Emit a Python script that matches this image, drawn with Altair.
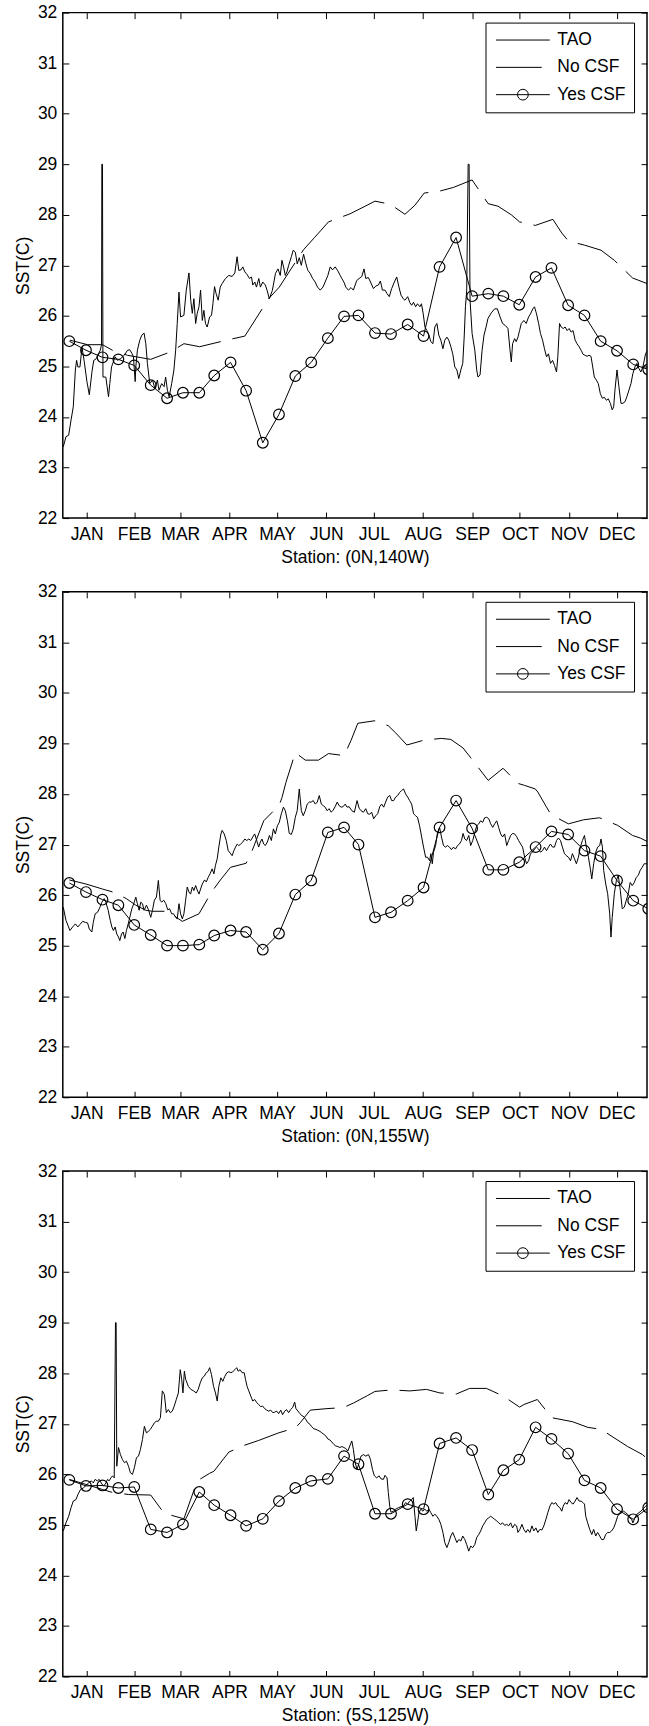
import altair as alt
import pandas as pd

FONT = "Liberation Sans"

MONTHS = ["JAN", "FEB", "MAR", "APR", "MAY", "JUN", "JUL", "AUG", "SEP", "OCT", "NOV", "DEC"]
MONTH_TICKS = [15, 45, 74, 105, 135, 166, 196, 227, 258, 288, 319, 349]
SST_TICKS = [22, 23, 24, 25, 26, 27, 28, 29, 30, 31, 32]
SERIES = ["TAO", "No CSF", "Yes CSF"]
STATIONS = ["Station: (0N,140W)", "Station: (0N,155W)", "Station: (5S,125W)"]

# 10-day model output days (Yes CSF markers)
YES_DAY = [4.1, 14.6, 25, 35, 45, 55.4, 65.7, 75.7, 86, 95.4, 105.7, 115.5, 126, 136.2,
           146.5, 156.5, 167, 177.2, 186.3, 196.7, 206.8, 217.3, 227.3, 237.4, 247.8,
           257.9, 268.1, 277.6, 287.6, 297.9, 307.9, 318.4, 328.7, 338.9, 349.2, 359.4, 368.9]

# ---------------- Station (0N,140W) ----------------
p1_yes = [25.50, 25.32, 25.18, 25.14, 25.02, 24.63, 24.37, 24.48, 24.48, 24.82, 25.08, 24.52,
          23.49, 24.05, 24.81, 25.08, 25.56, 25.99, 26.01, 25.66, 25.64, 25.83, 25.60, 26.97,
          27.55, 26.39, 26.44, 26.39, 26.22, 26.77, 26.95, 26.21, 26.01, 25.50, 25.31, 25.04, 24.94]
p1_nocsf = [(4.5, 25.52), (15.6, 25.43), (25, 25.43), (31.3, 25.32), (40.8, 25.22), (55.4, 25.14),
            (68, 25.29), (76.3, 25.45), (86.2, 25.39), (104.6, 25.53), (114.7, 25.6), (129.7, 26.34),
            (136.4, 26.57), (151.7, 27.31), (158.6, 27.55), (167.4, 27.86), (181, 28.02), (190.5, 28.17),
            (196.7, 28.27), (206.2, 28.21), (215.6, 28.01), (221.9, 28.19), (227.7, 28.43), (237.6, 28.47),
            (246, 28.54), (257.9, 28.69), (268, 28.22), (274.2, 28.17), (282.6, 28.0), (287.8, 27.86),
            (297.7, 27.79), (308.8, 27.91), (314.4, 27.64), (318.6, 27.48), (328.7, 27.4), (339.1, 27.3),
            (347.5, 27.1), (359, 26.75), (368.9, 26.63)]
p1_tao = [(0.3, 23.41), (2, 23.61), (3.7, 23.64), (5.2, 23.94), (6.6, 24.2), (7.9, 24.93), (8.7, 25.12),
          (9.5, 24.99), (10.8, 24.99), (12.1, 25.38), (13.5, 25.1), (15.2, 24.7), (16.7, 24.44),
          (18.4, 24.9), (19.5, 25.12), (21, 25.15), (22.5, 25.25), (23.6, 25.32), (24.4, 25.43),
          (24.6, 29.0), (25.0, 29.0), (25.3, 24.79), (27.1, 24.79), (28.8, 24.4), (29.6, 24.66),
          (30.7, 24.99), (33, 25.19), (34.5, 25.12), (36.6, 25.16), (38.7, 25.22), (40.8, 25.32),
          (42.2, 25.33), (43.5, 25.26), (44.5, 25.19), (45.6, 24.7), (46, 24.99), (47, 25.32),
          (48.5, 25.52), (49.8, 25.62), (51.2, 25.66), (52.3, 25.45), (53.3, 25.06), (54.8, 24.66),
          (56.5, 24.73), (58.1, 24.56), (59.6, 24.73), (60.6, 24.53), (62.3, 24.66), (63.8, 24.6),
          (64.8, 24.79), (65.9, 24.53), (67, 24.4), (68.6, 24.66), (70, 24.93), (71.1, 25.32),
          (72.1, 25.85), (73.2, 26.47), (74.2, 25.98), (76.3, 26.01), (77.8, 26.51), (79.5, 26.85),
          (80.6, 26.31), (81.6, 26.05), (82.6, 26.34), (83.7, 25.85), (84.7, 26.05), (85.8, 26.18),
          (86.8, 26.51), (87.9, 25.91), (88.9, 26.11), (89.9, 25.85), (91, 25.78), (92.5, 25.98),
          (93.7, 26.01), (94.6, 26.24), (95.6, 26.58), (96.6, 26.44), (97.9, 26.31), (99.2, 26.57),
          (100.4, 26.64), (102.5, 26.74), (104.6, 26.8), (106.7, 26.78), (108.4, 26.85), (109.8, 27.17),
          (110.9, 26.9), (112.3, 26.91), (113.4, 26.97), (114.7, 26.87), (116.1, 26.82), (117.6, 26.74),
          (118.9, 26.77), (119.7, 26.61), (121, 26.67), (122, 26.57), (123.5, 26.74), (124.5, 26.57),
          (126, 26.67), (127.6, 26.61), (128.7, 26.51), (130.1, 26.34), (132, 26.5), (134, 26.84),
          (135.6, 26.93), (137, 26.8), (138.1, 27.1), (139.1, 26.97), (140.2, 26.8), (141.2, 26.87),
          (142.3, 27.0), (144, 27.17), (145.2, 27.3), (146.5, 27.26), (147.7, 27.03), (149, 27.15),
          (150.3, 27.0), (151.7, 27.22), (153.2, 27.03), (154.4, 26.9), (155.9, 26.84), (157.4, 26.74),
          (159, 26.67), (160.5, 26.57), (162.2, 26.51), (163.9, 26.57), (165.3, 26.67), (167, 26.8),
          (168.5, 26.97), (170, 26.91), (171.6, 26.97), (173.3, 26.89), (174.8, 26.8), (175.8, 26.74),
          (177.1, 26.67), (178.3, 26.57), (180, 26.51), (181.6, 26.56), (183.1, 26.51), (185.2, 26.7),
          (186.7, 26.74), (188.4, 26.78), (189.8, 26.93), (190.9, 26.74), (192.5, 26.76), (194.2, 26.65),
          (195.7, 26.54), (197.2, 26.59), (198.8, 26.61), (200.1, 26.69), (201.4, 26.51), (203, 26.51),
          (204.3, 26.44), (205.7, 26.38), (207.2, 26.54), (208.9, 26.67), (210.4, 26.77), (211.8, 26.57),
          (213.1, 26.41), (214.5, 26.34), (215.6, 26.31), (217.3, 26.38), (218.7, 26.26), (219.8, 26.21),
          (221, 26.27), (222.3, 26.18), (223.5, 26.24), (225, 26.18), (226, 26.24), (227.1, 26.04),
          (228.2, 25.78), (229.4, 25.71), (230.7, 25.62), (231.9, 25.49), (233.2, 25.45), (234.4, 25.78),
          (235.7, 25.85), (236.9, 25.62), (238.2, 25.52), (239.5, 25.35), (240.7, 25.52), (242, 25.58),
          (243.2, 25.52), (244.5, 25.39), (245.7, 25.25), (247, 24.99), (248.3, 24.93), (249.5, 24.76),
          (250.8, 24.93), (252, 25.06), (252.9, 25.58), (253.7, 26.18), (254.5, 26.51), (255.4, 29.0),
          (256, 29.0), (256.6, 26.31), (257.9, 25.65), (259.6, 25.32), (260.8, 24.93), (261.6, 24.79),
          (262.9, 24.83), (264.2, 25.32), (265.4, 25.62), (266.7, 25.78), (267.9, 25.95), (270, 26.06),
          (272.1, 26.14), (273.8, 26.14), (275.5, 25.98), (277.1, 25.85), (278.8, 25.81), (280.5, 25.75),
          (281.8, 25.32), (282.6, 25.09), (283.4, 25.45), (284.7, 25.55), (285.7, 25.49), (286.8, 25.58),
          (287.8, 25.71), (288.9, 25.85), (290.5, 25.91), (292, 25.85), (293.5, 25.98), (294.7, 26.04),
          (296.2, 26.14), (297.2, 26.18), (298.5, 26.04), (299.8, 25.85), (301, 25.65), (302.3, 25.52),
          (303.5, 25.35), (304.8, 25.19), (306, 25.25), (307.3, 25.06), (308.6, 25.12), (309.8, 25.02),
          (311.1, 24.89), (311.9, 25.19), (313, 25.85), (314, 25.78), (315.3, 25.75), (316.5, 25.78),
          (317.8, 25.71), (319, 25.75), (320.3, 25.68), (321.5, 25.71), (322.8, 25.52), (324, 25.45),
          (325.3, 25.39), (326.6, 25.32), (327.8, 25.24), (329.1, 25.22), (330.3, 25.2), (331.5, 25.22),
          (332.8, 25.2), (333.9, 24.99), (334.9, 24.79), (336.2, 24.73), (337.4, 24.66), (338.7, 24.46),
          (340, 24.37), (341.2, 24.39), (342.5, 24.33), (343.7, 24.36), (345, 24.27), (346.2, 24.14),
          (347.1, 24.2), (347.9, 24.53), (349.2, 24.93), (350.4, 24.6), (351.7, 24.27), (352.9, 24.27),
          (354.2, 24.3), (355.4, 24.4), (356.7, 24.53), (358, 24.66), (359.2, 24.86), (360.5, 24.99),
          (361.7, 25.06), (363, 24.96), (364.2, 24.89), (365.5, 24.99), (367.2, 25.25), (368.9, 25.35)]

# ---------------- Station (0N,155W) ----------------
p2_yes = [26.24, 26.06, 25.91, 25.80, 25.41, 25.21, 25.00, 25.00, 25.02, 25.20, 25.30, 25.27,
          24.92, 25.24, 26.01, 26.29, 27.24, 27.34, 27.00, 25.56, 25.66, 25.89, 26.15, 27.34,
          27.87, 27.32, 26.50, 26.50, 26.65, 26.95, 27.26, 27.20, 26.88, 26.77, 26.29, 25.89, 25.73]
p2_nocsf = [(4.1, 26.3), (14.6, 26.22), (25, 26.12), (31.7, 26.06), (40.1, 25.93), (46, 25.8),
            (52.3, 25.7), (56.4, 25.68), (65.9, 25.68), (75.3, 25.48), (85.8, 25.63), (93.7, 26.06),
            (99.8, 26.32), (105.7, 26.55), (115.5, 26.63), (119.3, 26.88), (126.6, 27.47), (136.4, 27.78),
            (138.1, 27.93), (140.6, 28.23), (146.5, 28.82), (152.8, 28.67), (161.1, 28.67), (167.4, 28.8),
            (177.3, 28.76), (181.6, 29.06), (185.9, 29.4), (196.7, 29.45), (205.1, 29.35), (209.7, 29.21),
            (216.8, 28.97), (228.1, 29.07), (238.6, 29.1), (244.5, 29.08), (252.2, 28.91), (258.5, 28.66),
            (268, 28.27), (277.4, 28.51), (286.8, 28.21), (291, 28.17), (297.7, 28.1), (299.3, 28.04),
            (304.6, 27.75), (307.7, 27.59), (318.6, 27.41), (328.2, 27.49), (338.1, 27.53), (349.6, 27.38),
            (359, 27.18), (363.8, 27.13), (368.9, 27.05)]
p2_tao = [(0.3, 25.76), (2, 25.5), (4.5, 25.3), (6.2, 25.37), (7.9, 25.43), (9.5, 25.37), (10.8, 25.42),
          (12.5, 25.48), (14.2, 25.46), (15.6, 25.45), (16.7, 25.33), (18.3, 25.27), (19.2, 25.46),
          (20.4, 25.63), (21.9, 25.66), (23.4, 25.76), (24.6, 25.86), (26.1, 25.93), (27.1, 25.86),
          (28.6, 25.7), (29.9, 25.5), (30.9, 25.37), (31.9, 25.3), (33, 25.37), (34, 25.23), (35.1, 25.17),
          (35.9, 25.1), (37, 25.23), (38, 25.27), (39.1, 25.14), (40.1, 25.3), (41.2, 25.43), (42.2, 25.56),
          (43.5, 25.73), (44.7, 25.83), (46, 25.96), (47, 25.83), (48.1, 25.7), (49.1, 25.86), (50.2, 25.83),
          (51.2, 25.7), (52.7, 25.8), (54, 25.71), (55.4, 25.56), (56.5, 25.7), (57.7, 25.9), (59, 25.96),
          (60.2, 26.29), (61.3, 25.9), (62.3, 25.86), (63.6, 25.9), (64.9, 25.83), (66.1, 25.71),
          (67.3, 25.73), (68.6, 25.63), (69.8, 25.63), (71.1, 25.56), (72.1, 25.53), (73.2, 25.83),
          (74.2, 25.63), (75.3, 25.53), (76.3, 25.63), (77.4, 25.9), (78.4, 26.16), (79.5, 26.06),
          (80.5, 26.02), (81.6, 26.16), (82.6, 26.09), (83.7, 26.19), (84.7, 26.1), (85.8, 26.02),
          (86.8, 26.12), (87.9, 26.22), (89.3, 26.3), (90.4, 26.26), (91.6, 26.35), (92.9, 26.43),
          (94.1, 26.52), (95.2, 26.42), (96.2, 26.59), (97.3, 26.72), (98.3, 26.95), (99.6, 27.21),
          (100.4, 27.28), (101.7, 27.21), (103, 27.08), (104.2, 26.88), (105.5, 26.83), (106.7, 26.78),
          (107.8, 26.88), (108.8, 26.95), (109.9, 27.01), (110.9, 26.98), (112.1, 27.01), (113.4, 27.05),
          (114.7, 27.11), (115.9, 27.08), (117.2, 27.11), (118.4, 27.08), (119.7, 27.15), (120.9, 27.21),
          (122.2, 27.08), (123.4, 26.95), (124.5, 27.05), (125.5, 27.11), (126.6, 27.01), (127.6, 26.98),
          (128.9, 27.05), (130.2, 27.18), (131.4, 27.08), (132.7, 27.31), (133.9, 27.21), (135.2, 27.37),
          (136.4, 27.44), (137.7, 27.61), (139, 27.74), (140.2, 27.67), (141.5, 27.47), (142.7, 27.22),
          (144, 27.2), (145.2, 27.31), (146.5, 27.54), (147.7, 27.67), (149, 28.1), (150.3, 27.67),
          (151.5, 27.57), (152.8, 27.67), (154, 27.8), (155.3, 27.84), (156.5, 27.84), (157.8, 27.87),
          (159.1, 27.8), (160.3, 27.84), (161.6, 27.97), (162.9, 27.8), (164.1, 27.77), (165.3, 27.74),
          (166.6, 27.67), (167.8, 27.71), (169.1, 27.64), (170.3, 27.68), (171.6, 27.75), (172.9, 27.84),
          (174.1, 27.77), (175.4, 27.74), (176.6, 27.75), (177.9, 27.8), (179.1, 27.74), (180.4, 27.75),
          (182.1, 27.67), (183.7, 27.64), (185.4, 27.87), (186.7, 27.72), (187.9, 27.67), (189.4, 27.64),
          (190.9, 27.71), (192.1, 27.61), (193.4, 27.6), (194.6, 27.64), (195.9, 27.51), (197.2, 27.57),
          (198.4, 27.61), (199.7, 27.75), (200.9, 27.8), (202.2, 27.74), (203.4, 27.84), (204.7, 27.94),
          (206, 27.97), (207.2, 27.87), (208.5, 27.87), (209.7, 27.94), (211, 27.97), (212.2, 28.03),
          (213.5, 28.07), (214.7, 28.1), (216, 28.0), (217.3, 27.94), (218.5, 27.87), (219.8, 27.8),
          (221, 27.61), (222.3, 27.57), (223.5, 27.54), (224.8, 27.37), (226.1, 27.15), (227.3, 26.95),
          (228.6, 26.75), (229.8, 26.75), (231.1, 26.68), (231.9, 26.82), (232.8, 26.62), (233.6, 26.85),
          (234.9, 26.98), (236.1, 27.24), (237.4, 27.34), (238.6, 27.15), (239.9, 26.98), (241.1, 26.95),
          (242.4, 26.98), (243.6, 26.95), (244.9, 26.9), (246.2, 26.95), (247.4, 26.91), (248.7, 26.98),
          (249.9, 27.01), (251.2, 27.08), (252.2, 27.22), (253.3, 27.11), (254.5, 27.08), (255.8, 27.18),
          (257, 26.98), (258.3, 27.08), (259.6, 27.24), (260.8, 27.37), (262.1, 27.41), (263.3, 27.47),
          (264.6, 27.44), (265.8, 27.53), (267.1, 27.54), (268.4, 27.51), (269.6, 27.41), (270.9, 27.34),
          (272.1, 27.41), (273.4, 27.47), (274.6, 27.34), (275.9, 27.21), (277.1, 27.15), (278.4, 27.21),
          (279.7, 26.98), (280.9, 27.08), (282.2, 27.18), (283.4, 27.22), (284.7, 27.21), (285.9, 27.16),
          (287.2, 27.08), (288.5, 27.01), (289.7, 26.95), (291, 26.75), (292.2, 26.62), (293.5, 26.68),
          (294.7, 26.82), (296, 26.85), (297.2, 26.91), (298.5, 26.95), (299.8, 26.91), (301, 26.85),
          (302.3, 26.88), (303.5, 26.95), (304.8, 26.88), (306, 26.95), (307.3, 27.01), (308.6, 26.95),
          (309.8, 26.95), (311.1, 27.08), (312.3, 27.13), (313.6, 27.08), (314.8, 26.95), (316.1, 26.82),
          (317.3, 26.78), (318.6, 26.75), (319.9, 26.68), (321.1, 26.82), (322.4, 26.72), (323.6, 26.62),
          (324.9, 26.75), (326.1, 26.95), (327.4, 27.08), (328.7, 27.18), (329.9, 26.95), (331.2, 26.75),
          (332.4, 26.52), (333.3, 26.32), (334.5, 26.62), (335.8, 26.85), (337, 26.95), (338.3, 26.98),
          (339.1, 27.11), (340, 26.95), (340.8, 26.49), (342.1, 26.22), (343.3, 26.03), (344.6, 25.63),
          (345.4, 25.17), (346.2, 25.56), (347.5, 26.03), (348.8, 26.29), (350, 26.39), (351.3, 26.09),
          (352.5, 25.73), (353.8, 25.76), (355, 25.89), (356.3, 26.03), (357.5, 26.25), (358.8, 26.19),
          (360.1, 26.25), (361.3, 26.35), (362.6, 26.39), (363.8, 26.49), (365.1, 26.55), (366.3, 26.62),
          (368.9, 26.62)]

# ---------------- Station (5S,125W) ----------------
p3_yes = [25.89, 25.77, 25.78, 25.73, 25.75, 24.91, 24.85, 25.01, 25.65, 25.39, 25.19, 24.98,
          25.12, 25.47, 25.73, 25.87, 25.91, 26.36, 26.20, 25.22, 25.22, 25.41, 25.31, 26.61,
          26.72, 26.48, 25.60, 26.08, 26.29, 26.93, 26.70, 26.41, 25.88, 25.73, 25.31, 25.11, 25.34]
p3_nocsf = [(4.1, 25.9), (14.6, 25.8), (25, 25.7), (30.3, 25.65), (41.4, 25.6), (55.4, 25.59),
            (63.8, 25.23), (76.3, 25.12), (84.7, 25.87), (92.5, 26.02), (95.2, 26.06), (104.6, 26.44),
            (114, 26.57), (123.4, 26.67), (136, 26.82), (146.5, 26.92), (149.6, 27.02), (155.9, 27.27),
            (166.4, 27.3), (176.8, 27.32), (183.1, 27.41), (192.1, 27.56), (196.7, 27.64), (207.2, 27.67),
            (218.7, 27.65), (229.2, 27.68), (237.6, 27.61), (248, 27.59), (256.4, 27.7), (266.9, 27.7),
            (277.4, 27.55), (287.8, 27.33), (290.5, 27.38), (299, 27.48), (308.1, 27.12), (321.3, 27.04),
            (330.7, 26.93), (339.1, 26.89), (355.9, 26.55), (365.3, 26.39), (368.9, 26.29)]
p3_tao = [(0.3, 24.88), (2, 25.04), (3.7, 25.17), (5.2, 25.34), (6.6, 25.47), (8.3, 25.5), (9.5, 25.6),
          (11.2, 25.7), (12.9, 25.73), (14.6, 25.78), (16.2, 25.83), (18, 25.87), (19.2, 25.83),
          (20.4, 25.9), (21.7, 25.87), (22.9, 25.9), (24.2, 25.83), (25.5, 25.77), (26.7, 25.8),
          (28.2, 25.9), (29.2, 25.87), (30.3, 25.93), (31.3, 25.97), (32.4, 25.93), (33.2, 29.0),
          (33.6, 29.0), (34, 26.16), (35.1, 26.53), (36.3, 26.39), (37.6, 26.29), (38.9, 26.23),
          (40.1, 26.26), (41.4, 26.16), (42.6, 26.03), (43.9, 26.0), (45.1, 26.13), (46.4, 26.33),
          (47.7, 26.36), (48.9, 26.49), (50.2, 26.69), (51.4, 26.95), (52.7, 26.82), (53.9, 26.85),
          (55.2, 26.89), (56.4, 26.95), (57.7, 27.02), (58.9, 27.05), (60.2, 27.05), (61.5, 27.12),
          (62.7, 27.65), (64, 27.58), (65.2, 27.22), (66.5, 27.28), (67.7, 27.22), (69, 27.25),
          (70.2, 27.35), (71.5, 27.48), (72.8, 27.61), (74, 28.07), (74.9, 27.88), (75.7, 27.61),
          (76.6, 28.04), (77.4, 27.88), (79.1, 27.74), (80.7, 27.68), (82.4, 27.65), (84.1, 27.61),
          (85.3, 27.68), (86.6, 27.81), (87.9, 27.91), (89.1, 27.94), (90.4, 28.01), (91.6, 28.04),
          (92.5, 28.11), (93.7, 27.97), (95, 27.74), (96.2, 27.61), (97.3, 27.45), (98.3, 27.74),
          (99.6, 27.91), (100.8, 27.84), (102.1, 27.94), (103.4, 28.01), (104.6, 28.03), (105.9, 28.01),
          (107.1, 28.03), (108.4, 28.07), (109.6, 28.11), (110.5, 28.04), (111.7, 28.07), (113, 28.01),
          (114.3, 28.01), (115.1, 27.88), (116.1, 27.74), (117.2, 27.65), (118.4, 27.55), (119.7, 27.45),
          (120.9, 27.48), (122.2, 27.42), (123.4, 27.38), (124.7, 27.34), (125.9, 27.35), (127.2, 27.3),
          (128.5, 27.27), (129.7, 27.25), (131, 27.27), (132.3, 27.22), (133.5, 27.23), (134.8, 27.25),
          (136, 27.2), (137.3, 27.27), (138.5, 27.18), (139.8, 27.25), (141, 27.28), (142.3, 27.22),
          (143.5, 27.28), (144.8, 27.32), (146.1, 27.43), (146.9, 27.3), (148.2, 27.25), (149.4, 27.2),
          (150.7, 27.16), (151.9, 27.14), (153.2, 27.08), (154.4, 27.02), (155.7, 26.99), (156.9, 26.94),
          (158.2, 26.9), (159.5, 26.89), (160.7, 26.87), (162, 26.85), (163.2, 26.82), (164.5, 26.79),
          (165.7, 26.76), (167, 26.7), (168.3, 26.68), (169.5, 26.64), (170.8, 26.59), (172, 26.56),
          (173.3, 26.55), (174.6, 26.53), (175.8, 26.55), (177.1, 26.53), (178.3, 26.51), (179.6, 26.46),
          (180.8, 26.56), (182.1, 26.66), (183.1, 26.49), (184.2, 26.23), (185.4, 26.1), (186.7, 26.23),
          (187.9, 26.36), (189.4, 26.39), (190.9, 26.36), (192.6, 26.39), (193.8, 26.3), (195.1, 26.1),
          (196.3, 25.97), (197.8, 25.93), (199.3, 25.97), (200.5, 25.91), (202, 25.9), (203, 25.98),
          (204.3, 25.93), (205.1, 25.64), (206, 25.37), (206.8, 25.25), (208.3, 25.27), (209.7, 25.31),
          (211.4, 25.34), (213.1, 25.36), (214.5, 25.37), (216, 25.44), (217.3, 25.41), (218.5, 25.47),
          (219.8, 25.5), (220.8, 25.54), (221.9, 25.17), (222.7, 24.88), (223.5, 25.04), (224.4, 25.24),
          (225.6, 25.31), (226.9, 25.27), (228.1, 25.31), (229.4, 25.27), (230.7, 25.31), (231.9, 25.24),
          (233.2, 25.17), (234.4, 25.21), (235.7, 25.17), (236.9, 25.11), (238.2, 25.01), (239.5, 24.85),
          (240.7, 24.65), (242, 24.55), (243.2, 24.65), (244.5, 24.78), (245.7, 24.85), (247, 24.75),
          (248.3, 24.65), (249.5, 24.71), (250.8, 24.68), (252, 24.78), (253.3, 24.71), (254.5, 24.61),
          (255.8, 24.48), (257, 24.58), (258.3, 24.55), (259.6, 24.61), (260.8, 24.75), (262.1, 24.81),
          (263.3, 24.88), (264.6, 24.98), (265.8, 25.04), (267.1, 25.11), (268.4, 25.14), (269.6, 25.17),
          (270.9, 25.14), (272.1, 25.11), (273.4, 25.08), (274.6, 25.04), (275.9, 25.01), (277.1, 25.04),
          (278.4, 24.99), (279.7, 25.01), (280.9, 24.98), (282.2, 25.04), (283.4, 24.94), (284.7, 25.01),
          (285.9, 24.98), (286.8, 24.85), (288, 24.91), (289.3, 25.01), (290.5, 24.91), (291.8, 24.85),
          (293, 24.91), (294.3, 24.85), (295.6, 24.98), (296.8, 24.88), (298.1, 24.94), (299.3, 24.85),
          (300.6, 24.91), (301.9, 24.9), (303.1, 24.98), (304.4, 25.11), (305.6, 25.24), (306.9, 25.37),
          (308.1, 25.44), (309.4, 25.41), (310.6, 25.44), (311.9, 25.37), (313.2, 25.34), (314.4, 25.27),
          (315.3, 25.37), (316.5, 25.44), (317.8, 25.41), (319, 25.5), (320.3, 25.44), (321.5, 25.41),
          (322.8, 25.47), (324, 25.54), (325.3, 25.47), (326.6, 25.47), (327.8, 25.44), (328.7, 25.41),
          (329.5, 25.17), (330.7, 25.04), (332, 24.91), (333.3, 24.81), (334.5, 24.91), (335.8, 24.78),
          (337, 24.85), (338.3, 24.78), (339.5, 24.71), (340.8, 24.71), (342.1, 24.81), (343.3, 24.85),
          (344.6, 24.85), (345.8, 24.88), (347.1, 24.94), (348.3, 25.04), (349.6, 25.17), (350.9, 25.24),
          (352.1, 25.27), (353.4, 25.27), (354.6, 25.24), (355.9, 25.21), (357.1, 25.14), (358.4, 25.11),
          (359.2, 25.04), (360.5, 25.14), (361.7, 25.21), (363, 25.24), (364.2, 25.27), (365.5, 25.31),
          (367.2, 25.37), (368.9, 25.41)]

# ---------------- styling ----------------
FS = 17.5
W, H = 586, 507
X_DOMAIN = [0, 368.1]
Y_DOMAIN = [22, 32]
LEGEND_SYMBOLS = [
    "M-1,0H1",
    "M-1,0H0.7",
    "M-1,0H1M0.2,0A0.2,0.2,0,1,1,-0.2,0A0.2,0.2,0,1,1,0.2,0",
]
MONTH_EXPR = ("[" + ",".join("'%s'" % m for m in MONTHS) + "][indexof(["
              + ",".join(str(t) for t in MONTH_TICKS) + "], datum.value)]")


def panel(station, tao_pairs, no_pairs, yes_vals):
    tao = pd.DataFrame(tao_pairs, columns=["day", "sst"])
    no = pd.DataFrame(no_pairs, columns=["day", "sst"])
    yes = pd.DataFrame({"day": YES_DAY, "sst": yes_vals})
    xs = alt.Scale(domain=X_DOMAIN, nice=False, zero=False)
    ys = alt.Scale(domain=Y_DOMAIN, nice=False, zero=False)

    x_bottom = alt.X("day:Q", scale=xs, axis=alt.Axis(
        orient="bottom", values=MONTH_TICKS, labelExpr=MONTH_EXPR, offset=-6, tickSize=6,
        domain=False, grid=False, labelPadding=7, labelFlush=False, labelOverlap=False,
        title=station, titlePadding=6))
    y_left = alt.Y("sst:Q", scale=ys, axis=alt.Axis(
        orient="left", values=SST_TICKS, format="d", offset=-6, tickSize=6, domain=False,
        grid=False, labelPadding=6, labelFlush=False, labelOverlap=False,
        title="SST(C)", titlePadding=5))
    x_top = alt.X("day:Q", scale=xs, axis=alt.Axis(
        orient="top", values=MONTH_TICKS, offset=-6, tickSize=6, domain=False, grid=False,
        labels=False, title=None))
    y_right = alt.Y("sst:Q", scale=ys, axis=alt.Axis(
        orient="right", values=SST_TICKS, offset=-6, tickSize=6, domain=False, grid=False,
        labels=False, title=None))
    x_none = alt.X("day:Q", scale=xs, axis=None)
    y_none = alt.Y("sst:Q", scale=ys, axis=None)

    tao_line = alt.Chart(tao).mark_line(color="black", strokeWidth=1, clip=True).encode(
        x=x_bottom, y=y_left)
    no_line = alt.Chart(no).mark_line(color="black", strokeWidth=1, strokeDash=[45, 12],
                                      clip=True).encode(x=x_top, y=y_right)
    yes_line = alt.Chart(yes).mark_line(color="black", strokeWidth=1, clip=True).encode(
        x=x_none, y=y_none)
    yes_pts = alt.Chart(yes).mark_point(shape="circle", size=114, color="black", filled=False,
                                        strokeWidth=1.2, opacity=1, clip=True).encode(
        x=x_none, y=y_none)
    legend_layer = alt.Chart(pd.DataFrame({"series": SERIES})).mark_point(
        color="black", filled=False, opacity=0).encode(
        shape=alt.Shape("series:N", scale=alt.Scale(domain=SERIES, range=LEGEND_SYMBOLS),
                        legend=alt.Legend(
                            title=None, orient="none", legendX=424, legendY=10,
                            direction="vertical", fillColor="white", strokeColor="black",
                            padding=8, cornerRadius=0, symbolSize=2916, symbolStrokeWidth=1,
                            symbolStrokeColor="black", symbolFillColor="transparent",
                            symbolOpacity=1, symbolOffset=2, labelFont=FONT, labelFontSize=FS,
                            labelColor="black", labelOffset=7, clipHeight=19, rowPadding=8.4)))

    return alt.layer(tao_line, no_line, yes_line, yes_pts, legend_layer).resolve_axis(
        x="independent", y="independent").properties(width=W, height=H)


chart = alt.vconcat(
    panel(STATIONS[0], p1_tao, p1_nocsf, p1_yes),
    panel(STATIONS[1], p2_tao, p2_nocsf, p2_yes),
    panel(STATIONS[2], p3_tao, p3_nocsf, p3_yes),
    spacing=15,
).resolve_scale(shape="independent").resolve_legend(shape="independent").properties(
    padding={"left": 13, "top": 0, "right": 0, "bottom": 0}, background="white"
).configure_view(stroke="black", strokeWidth=1.5).configure_axis(
    labelFont=FONT, labelFontSize=FS, labelColor="black", titleFont=FONT, titleFontSize=FS,
    titleFontWeight="normal", titleColor="black", tickColor="black", tickWidth=1
).configure_concat(spacing=15)

chart.save("out.html", embed_options={"renderer": "svg", "actions": False})
